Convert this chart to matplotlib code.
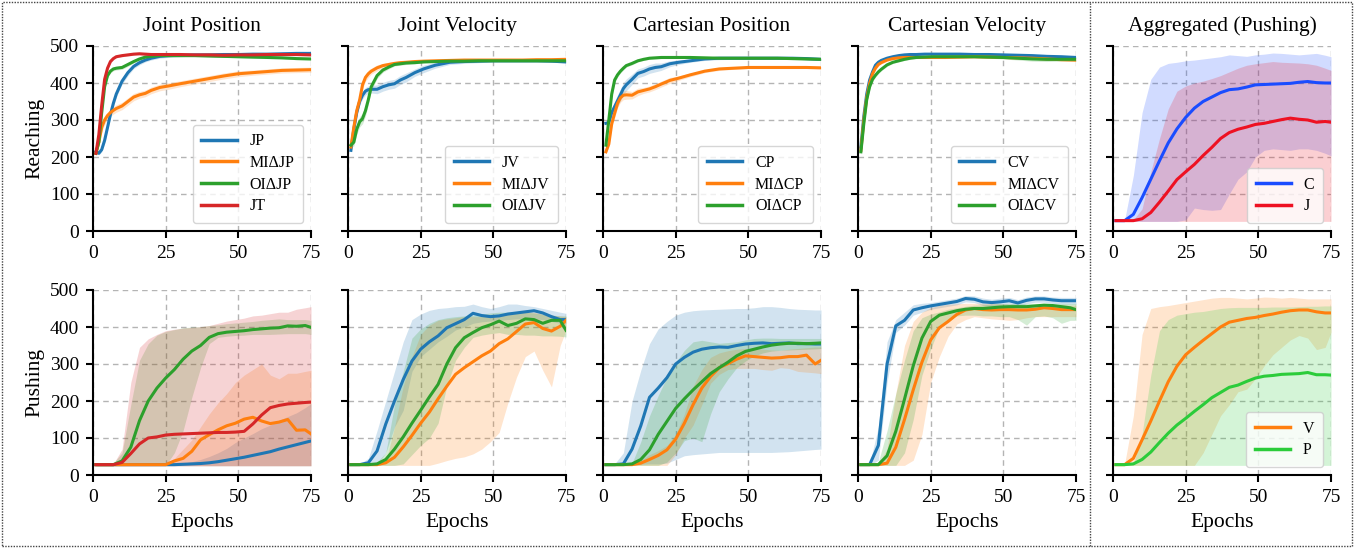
import matplotlib
matplotlib.use("Agg")
import matplotlib.pyplot as plt
from matplotlib.patches import Rectangle
from matplotlib.lines import Line2D

plt.rcParams['font.family'] = ['Liberation Serif', 'DejaVu Serif']
plt.rcParams['mathtext.fontset'] = 'stix'

# ---------------- data ----------------
T_EP = [1, 2, 3, 4, 5, 6, 7, 8, 10, 12, 14, 16, 18, 20, 23, 26, 30, 35, 40, 45, 50, 55, 60, 65, 70, 75]
B_EP = [1, 4, 7, 10, 13, 16, 19, 22, 25, 28, 31, 34, 37, 40, 43, 46, 49, 52, 55, 58, 61, 64, 67, 70, 73, 75]

col_titles = ["Joint Position", "Joint Velocity", "Cartesian Position", "Cartesian Velocity", "Aggregated (Pushing)"]
row_labels = ["Reaching", "Pushing"]

# ---- Reaching (top row): mean and half-width of band ----
reach_jp = [215, 210, 220, 245, 280, 315, 345, 370, 405, 428, 445, 455, 462, 467, 472, 474, 475, 476, 476, 477, 477, 478, 478, 479, 480, 480]
reach_jp_sd = [4, 4, 6, 8, 8, 8, 8, 8, 8, 8, 6, 6, 5, 5, 5, 5, 4, 3, 3, 3, 3, 3, 3, 3, 3, 3]
reach_mijp = [210, 240, 280, 300, 312, 320, 326, 331, 338, 350, 362, 368, 372, 380, 388, 392, 398, 405, 412, 419, 425, 428, 431, 434, 435, 436]
reach_mijp_sd = [6, 10, 12, 12, 10, 10, 10, 10, 10, 10, 10, 9, 9, 9, 9, 9, 8, 8, 8, 8, 8, 7, 7, 7, 7, 7]
reach_oijp = [210, 240, 320, 390, 420, 432, 438, 440, 442, 450, 458, 465, 470, 472, 474, 474, 474, 474, 473, 472, 471, 470, 469, 468, 466, 465]
reach_oijp_sd = [4, 6, 8, 8, 6, 5, 5, 5, 5, 5, 4, 4, 4, 4, 4, 3, 3, 3, 3, 3, 3, 3, 3, 3, 3, 3]
reach_jt = [210, 260, 340, 410, 440, 458, 466, 471, 474, 476, 478, 479, 478, 477, 477, 477, 477, 476, 476, 475, 476, 476, 477, 477, 477, 476]
reach_jt_sd = [4, 6, 8, 8, 5, 4, 3, 3, 3, 3, 3, 3, 3, 3, 3, 3, 3, 3, 5, 6, 3, 3, 3, 3, 3, 3]

reach_jv = [218, 275, 320, 350, 367, 378, 382, 383, 383, 390, 395, 398, 408, 415, 428, 438, 448, 456, 458, 459, 460, 460, 460, 460, 459, 457]
reach_jv_sd = [6, 8, 10, 10, 10, 10, 10, 10, 12, 12, 12, 12, 12, 12, 10, 10, 8, 6, 5, 4, 3, 3, 3, 3, 3, 3]
reach_mijv = [227, 280, 325, 354, 395, 415, 425, 432, 441, 447, 450, 453, 455, 456, 458, 459, 460, 461, 462, 462, 462, 462, 462, 463, 463, 464]
reach_mijv_sd = [8, 12, 14, 14, 12, 10, 10, 8, 8, 6, 6, 5, 5, 4, 4, 4, 3, 3, 3, 3, 3, 3, 3, 3, 3, 3]
reach_oijv = [232, 240, 275, 295, 304, 325, 355, 390, 420, 435, 443, 450, 452, 454, 455, 457, 458, 459, 459, 460, 460, 460, 460, 460, 460, 460]
reach_oijv_sd = [6, 10, 14, 14, 14, 14, 12, 10, 8, 6, 5, 4, 4, 4, 3, 3, 3, 3, 3, 3, 3, 3, 3, 3, 3, 3]

reach_cp = [291, 293, 320, 336, 352, 368, 385, 395, 410, 426, 431, 438, 442, 444, 452, 456, 460, 465, 467, 467, 467, 467, 467, 467, 466, 464]
reach_cp_sd = [6, 8, 12, 14, 16, 16, 16, 16, 14, 12, 12, 12, 12, 10, 8, 6, 4, 4, 4, 3, 3, 3, 3, 3, 3, 3]
reach_micp = [214, 235, 290, 318, 345, 360, 367, 368, 367, 376, 380, 384, 390, 397, 407, 413, 422, 432, 438, 440, 442, 442, 442, 442, 442, 441]
reach_micp_sd = [6, 8, 10, 12, 12, 12, 12, 12, 10, 10, 8, 8, 8, 8, 8, 6, 5, 4, 4, 3, 3, 3, 3, 3, 3, 3]
reach_oicp = [232, 300, 370, 408, 422, 432, 440, 447, 453, 460, 464, 467, 468, 469, 469, 469, 469, 468, 467, 467, 467, 467, 467, 466, 465, 464]
reach_oicp_sd = [6, 10, 10, 8, 6, 5, 5, 4, 4, 3, 3, 3, 3, 3, 3, 3, 3, 3, 3, 3, 3, 3, 3, 3, 3, 3]

reach_cv = [227, 310, 370, 408, 430, 448, 456, 461, 467, 471, 474, 476, 477, 477, 478, 478, 478, 478, 477, 477, 476, 475, 474, 472, 471, 469]
reach_cv_sd = [6, 8, 8, 6, 5, 4, 4, 3, 3, 3, 3, 3, 3, 3, 3, 3, 3, 3, 3, 3, 3, 3, 3, 3, 3, 3]
reach_micv = [218, 300, 360, 399, 425, 440, 450, 455, 462, 466, 468, 469, 469, 469, 469, 469, 469, 470, 471, 470, 469, 468, 467, 465, 463, 462]
reach_micv_sd = [6, 8, 8, 6, 5, 4, 4, 3, 3, 3, 3, 3, 3, 3, 3, 3, 3, 3, 3, 3, 3, 3, 3, 3, 3, 3]
reach_oicv = [214, 290, 355, 390, 410, 421, 430, 437, 449, 456, 460, 464, 467, 469, 470, 471, 471, 471, 471, 470, 469, 467, 465, 464, 464, 464]
reach_oicv_sd = [8, 10, 10, 8, 6, 5, 5, 4, 4, 3, 3, 3, 3, 3, 3, 3, 3, 3, 3, 3, 4, 5, 6, 6, 5, 5]

# ---- Pushing (bottom row): mean, lower, upper ----
push_jp = [28, 28, 28, 28, 28, 28, 28, 28, 28, 28, 29, 30, 31, 33, 36, 40, 44, 48, 53, 58, 63, 70, 76, 82, 88, 92]
push_jp_lo = [25] * 26
push_jp_hi = [30, 30, 30, 30, 30, 30, 30, 30, 30, 30, 32, 36, 42, 50, 60, 72, 88, 100, 112, 125, 135, 148, 158, 168, 182, 193]
push_mijp = [28, 28, 28, 28, 28, 28, 28, 28, 28, 38, 45, 64, 95, 109, 122, 133, 140, 151, 156, 146, 139, 143, 150, 121, 122, 111]
push_mijp_lo = [25] * 26
push_mijp_hi = [30, 30, 30, 30, 30, 30, 30, 30, 30, 45, 70, 95, 130, 165, 195, 220, 250, 270, 285, 300, 270, 260, 275, 275, 280, 283]
push_oijp = [28, 28, 28, 38, 75, 147, 200, 235, 262, 285, 313, 335, 350, 372, 382, 386, 388, 390, 393, 395, 397, 398, 403, 402, 404, 399]
push_oijp_lo = [26, 26, 26, 26, 26, 26, 26, 26, 26, 60, 120, 210, 290, 355, 372, 375, 377, 378, 380, 380, 380, 381, 382, 382, 382, 380]
push_oijp_hi = [30, 30, 32, 60, 190, 310, 355, 378, 388, 393, 398, 400, 401, 404, 406, 409, 411, 413, 415, 418, 420, 422, 420, 420, 420, 418]
push_jt = [28, 28, 28, 34, 58, 84, 100, 103, 108, 110, 111, 112, 113, 114, 115, 115, 116, 118, 138, 162, 182, 188, 192, 194, 196, 197]
push_jt_lo = [25] * 26
push_jt_hi = [30, 30, 30, 70, 250, 345, 368, 380, 390, 394, 397, 399, 401, 404, 410, 416, 420, 424, 430, 432, 436, 440, 440, 448, 452, 455]

push_jv = [28, 28, 33, 65, 138, 200, 258, 308, 340, 360, 376, 398, 409, 420, 437, 431, 428, 430, 435, 438, 441, 444, 438, 428, 420, 420]
push_jv_lo = [26, 26, 26, 28, 60, 130, 175, 280, 320, 340, 360, 375, 392, 400, 410, 414, 416, 418, 420, 422, 423, 422, 420, 415, 410, 410]
push_jv_hi = [30, 30, 45, 120, 200, 280, 360, 420, 435, 445, 450, 452, 455, 456, 462, 455, 450, 455, 462, 462, 458, 455, 450, 445, 440, 437]
push_mijv = [28, 28, 28, 28, 33, 48, 76, 107, 140, 170, 206, 240, 272, 290, 306, 322, 335, 355, 368, 388, 408, 412, 396, 389, 402, 418]
push_mijv_lo = [26, 26, 26, 26, 26, 26, 26, 26, 26, 26, 32, 39, 45, 49, 57, 70, 90, 115, 195, 265, 320, 335, 283, 238, 350, 391]
push_mijv_hi = [30, 30, 30, 30, 35, 130, 240, 320, 380, 405, 418, 422, 425, 428, 428, 428, 430, 432, 435, 438, 441, 440, 435, 432, 430, 428]
push_oijv = [28, 28, 28, 30, 42, 70, 103, 140, 175, 211, 245, 300, 344, 371, 385, 398, 406, 416, 404, 410, 422, 420, 410, 418, 418, 391]
push_oijv_lo = [26, 26, 26, 26, 26, 26, 30, 55, 80, 100, 140, 240, 310, 345, 372, 378, 382, 385, 380, 380, 378, 378, 376, 376, 375, 373]
push_oijv_hi = [30, 30, 30, 35, 60, 190, 280, 370, 395, 410, 420, 425, 428, 430, 432, 435, 438, 440, 440, 440, 440, 438, 435, 432, 430, 430]

push_cp = [28, 28, 30, 70, 133, 210, 235, 263, 300, 318, 332, 340, 344, 346, 345, 350, 354, 356, 357, 355, 356, 357, 355, 355, 354, 354]
push_cp_lo = [26, 26, 26, 28, 29, 30, 30, 32, 42, 52, 55, 57, 59, 61, 61, 61, 61, 61, 61, 61, 62, 63, 65, 67, 69, 70]
push_cp_hi = [30, 30, 60, 200, 283, 355, 395, 415, 432, 440, 444, 446, 447, 448, 449, 450, 450, 452, 455, 455, 453, 450, 448, 447, 446, 446]
push_micp = [28, 28, 28, 28, 32, 42, 53, 68, 97, 140, 190, 235, 266, 290, 301, 313, 322, 320, 318, 316, 317, 320, 320, 324, 300, 310]
push_micp_lo = [26, 26, 26, 26, 26, 26, 26, 26, 55, 100, 135, 190, 248, 272, 285, 288, 288, 288, 285, 283, 290, 288, 280, 278, 276, 274]
push_micp_hi = [30, 30, 30, 32, 40, 55, 66, 80, 110, 165, 240, 285, 318, 330, 336, 340, 342, 342, 340, 338, 337, 340, 342, 344, 346, 346]
push_oicp = [28, 28, 28, 30, 42, 68, 110, 145, 180, 206, 230, 252, 274, 290, 305, 322, 334, 340, 346, 351, 354, 356, 356, 355, 356, 357]
push_oicp_lo = [26, 26, 26, 26, 26, 26, 26, 35, 60, 93, 100, 90, 165, 225, 260, 290, 308, 322, 330, 335, 337, 338, 339, 340, 341, 342]
push_oicp_hi = [30, 30, 30, 32, 90, 160, 215, 265, 305, 337, 360, 364, 360, 356, 358, 360, 365, 369, 370, 370, 369, 369, 369, 369, 369, 369]

push_cv = [28, 28, 80, 300, 403, 418, 446, 452, 457, 461, 465, 469, 477, 475, 468, 466, 468, 471, 465, 472, 476, 476, 473, 471, 471, 471]
push_cv_lo = [26, 26, 40, 250, 385, 405, 432, 440, 448, 452, 456, 460, 468, 466, 458, 456, 458, 462, 456, 463, 467, 467, 464, 462, 462, 462]
push_cv_hi = [30, 30, 130, 360, 420, 440, 460, 464, 466, 470, 474, 478, 485, 484, 478, 475, 478, 480, 474, 481, 484, 484, 481, 480, 480, 480]
push_micv = [28, 28, 28, 32, 75, 150, 230, 305, 365, 398, 415, 434, 446, 450, 447, 446, 447, 447, 446, 446, 448, 452, 450, 447, 447, 447]
push_micv_lo = [26, 26, 26, 26, 26, 26, 40, 110, 250, 320, 375, 408, 420, 428, 425, 422, 420, 418, 420, 425, 428, 428, 428, 428, 428, 428]
push_micv_hi = [30, 30, 30, 70, 220, 350, 415, 440, 452, 459, 461, 463, 464, 464, 464, 464, 463, 462, 461, 460, 460, 460, 460, 460, 459, 459]
push_oicv = [28, 28, 28, 52, 118, 205, 295, 370, 415, 432, 438, 444, 448, 450, 450, 452, 454, 455, 455, 455, 457, 459, 458, 455, 452, 447]
push_oicv_lo = [26, 26, 26, 26, 26, 60, 150, 270, 340, 400, 420, 430, 432, 432, 430, 430, 428, 428, 420, 405, 428, 430, 425, 410, 418, 418]
push_oicv_hi = [30, 30, 35, 120, 220, 310, 390, 425, 435, 441, 448, 452, 456, 459, 460, 462, 463, 463, 464, 464, 464, 464, 464, 464, 464, 464]

# ---- Aggregated (pushing) ----
agg_c = [28, 28, 45, 90, 140, 190, 238, 276, 307, 332, 350, 362, 374, 382, 384, 389, 395, 396, 397, 398, 399, 402, 404, 401, 400, 400]
agg_c_lo = [26, 26, 26, 26, 26, 26, 26, 26, 30, 62, 58, 56, 58, 100, 140, 160, 200, 218, 222, 220, 218, 222, 222, 218, 210, 203]
agg_c_hi = [30, 30, 150, 320, 410, 443, 453, 456, 460, 462, 465, 468, 471, 476, 474, 472, 476, 478, 481, 480, 478, 476, 478, 480, 475, 471]
agg_j = [28, 28, 28, 33, 50, 78, 108, 139, 160, 180, 204, 226, 250, 266, 275, 281, 288, 291, 296, 301, 305, 302, 300, 294, 296, 294]
agg_j_lo = [26] * 26
agg_j_hi = [30, 30, 30, 60, 160, 250, 330, 378, 392, 400, 405, 412, 420, 430, 440, 448, 452, 455, 458, 456, 455, 454, 452, 448, 440, 434]
agg_v = [28, 28, 45, 95, 146, 200, 252, 294, 325, 345, 364, 382, 400, 413, 418, 423, 426, 431, 435, 440, 444, 446, 446, 441, 438, 438]
agg_v_lo = [26, 26, 26, 26, 26, 26, 26, 26, 26, 26, 60, 110, 160, 190, 225, 232, 260, 295, 325, 345, 365, 377, 370, 339, 345, 386]
agg_v_hi = [30, 30, 160, 380, 450, 455, 458, 462, 466, 470, 474, 478, 480, 480, 478, 476, 478, 481, 480, 478, 480, 478, 476, 476, 476, 476]
agg_p = [28, 28, 30, 42, 62, 88, 113, 135, 153, 172, 190, 209, 223, 237, 243, 253, 262, 267, 269, 272, 273, 274, 277, 271, 271, 270]
agg_p_lo = [26] * 26
agg_p_hi = [30, 30, 30, 110, 270, 390, 420, 432, 436, 440, 442, 446, 450, 452, 453, 453, 453, 453, 454, 454, 454, 455, 456, 456, 457, 457]

# ---------------- figure ----------------
W, H = 1354, 548
fig = plt.figure(figsize=(W / 100, H / 100), dpi=100)

lefts = [93, 348, 603, 858, 1113]
aw, ah = 218, 185
row_tops = [46, 290]

C0, C1, C2, C3 = '#1f77b4', '#ff7f0e', '#2ca02c', '#d62728'
CB, CR, CG = '#1a4cff', '#ee1122', '#2bcc3a'

top_panels = [
    [("JP", reach_jp, reach_jp_sd, C0), ("MI\u0394JP", reach_mijp, reach_mijp_sd, C1),
     ("OI\u0394JP", reach_oijp, reach_oijp_sd, C2), ("JT", reach_jt, reach_jt_sd, C3)],
    [("JV", reach_jv, reach_jv_sd, C0), ("MI\u0394JV", reach_mijv, reach_mijv_sd, C1),
     ("OI\u0394JV", reach_oijv, reach_oijv_sd, C2)],
    [("CP", reach_cp, reach_cp_sd, C0), ("MI\u0394CP", reach_micp, reach_micp_sd, C1),
     ("OI\u0394CP", reach_oicp, reach_oicp_sd, C2)],
    [("CV", reach_cv, reach_cv_sd, C0), ("MI\u0394CV", reach_micv, reach_micv_sd, C1),
     ("OI\u0394CV", reach_oicv, reach_oicv_sd, C2)],
]
bottom_panels = [
    [(push_jp, push_jp_lo, push_jp_hi, C0), (push_mijp, push_mijp_lo, push_mijp_hi, C1),
     (push_oijp, push_oijp_lo, push_oijp_hi, C2), (push_jt, push_jt_lo, push_jt_hi, C3)],
    [(push_jv, push_jv_lo, push_jv_hi, C0), (push_mijv, push_mijv_lo, push_mijv_hi, C1),
     (push_oijv, push_oijv_lo, push_oijv_hi, C2)],
    [(push_cp, push_cp_lo, push_cp_hi, C0), (push_micp, push_micp_lo, push_micp_hi, C1),
     (push_oicp, push_oicp_lo, push_oicp_hi, C2)],
    [(push_cv, push_cv_lo, push_cv_hi, C0), (push_micv, push_micv_lo, push_micv_hi, C1),
     (push_oicv, push_oicv_lo, push_oicv_hi, C2)],
]
agg_top = [("C", agg_c, agg_c_lo, agg_c_hi, CB), ("J", agg_j, agg_j_lo, agg_j_hi, CR)]
agg_bot = [("V", agg_v, agg_v_lo, agg_v_hi, C1), ("P", agg_p, agg_p_lo, agg_p_hi, CG)]

LW = 2.2
ALPHA = 0.2


def style(ax, col, row):
    ax.set_xlim(0, 75)
    ax.set_ylim(0, 500)
    ax.set_xticks([0, 25, 50, 75])
    ax.set_yticks([0, 100, 200, 300, 400, 500])
    ax.grid(True, linestyle=(0, (4, 3)), color='#b4b4b4', linewidth=1.0)
    ax.set_axisbelow(True)
    for s in ['top', 'right']:
        ax.spines[s].set_visible(False)
    for s in ['left', 'bottom']:
        ax.spines[s].set_linewidth(1.5)
        ax.spines[s].set_color('black')
    ax.tick_params(axis='both', direction='out', length=5, width=1.5, labelsize=14, pad=5)
    if col != 0:
        ax.set_yticklabels([])
    else:
        ax.set_ylabel(row_labels[row], fontsize=15.5, labelpad=4)
    if row == 0:
        ax.set_title(col_titles[col], fontsize=15.5, pad=11)
    else:
        ax.set_xlabel("Epochs", fontsize=15.5, labelpad=5)


def make_ax(col, row):
    l = lefts[col] / W
    b = (H - row_tops[row] - ah) / H
    return fig.add_axes([l, b, aw / W, ah / H])


for c in range(5):
    for r in range(2):
        ax = make_ax(c, r)
        handles = []
        if c < 4 and r == 0:
            for name, m, sd, colr in top_panels[c]:
                lo = [a - s for a, s in zip(m, sd)]
                hi = [a + s for a, s in zip(m, sd)]
                ax.fill_between(T_EP, lo, hi, color=colr, alpha=ALPHA, linewidth=0)
                ax.plot(T_EP, m, color=colr, linewidth=LW)
                handles.append((Line2D([], [], color=colr, linewidth=2.5), name))
        elif c < 4 and r == 1:
            for m, lo, hi, colr in bottom_panels[c]:
                ax.fill_between(B_EP, lo, hi, color=colr, alpha=ALPHA, linewidth=0)
                ax.plot(B_EP, m, color=colr, linewidth=LW)
        else:
            series = agg_top if r == 0 else agg_bot
            for name, m, lo, hi, colr in series:
                ax.fill_between(B_EP, lo, hi, color=colr, alpha=ALPHA, linewidth=0)
                ax.plot(B_EP, m, color=colr, linewidth=LW)
                handles.append((Line2D([], [], color=colr, linewidth=2.5), name))
        style(ax, c, r)
        if handles:
            ax.legend([h for h, _ in handles], [n for _, n in handles], loc='lower right',
                      fontsize=11.5, handlelength=2.2, handletextpad=0.8, borderpad=0.55,
                      labelspacing=0.35, framealpha=0.8)

# dotted frame and separator
fig.patches.append(Rectangle((2 / W, 2 / H), (W - 4) / W, (H - 4) / H, transform=fig.transFigure,
                             fill=False, linestyle=(0, (1, 1)), linewidth=1.0, edgecolor='#444444'))
fig.add_artist(Line2D([1090 / W, 1090 / W], [2 / H, (H - 2) / H], transform=fig.transFigure,
                      linestyle=(0, (1, 1)), linewidth=1.0, color='#444444'))

fig.savefig("out.png", dpi=100)
